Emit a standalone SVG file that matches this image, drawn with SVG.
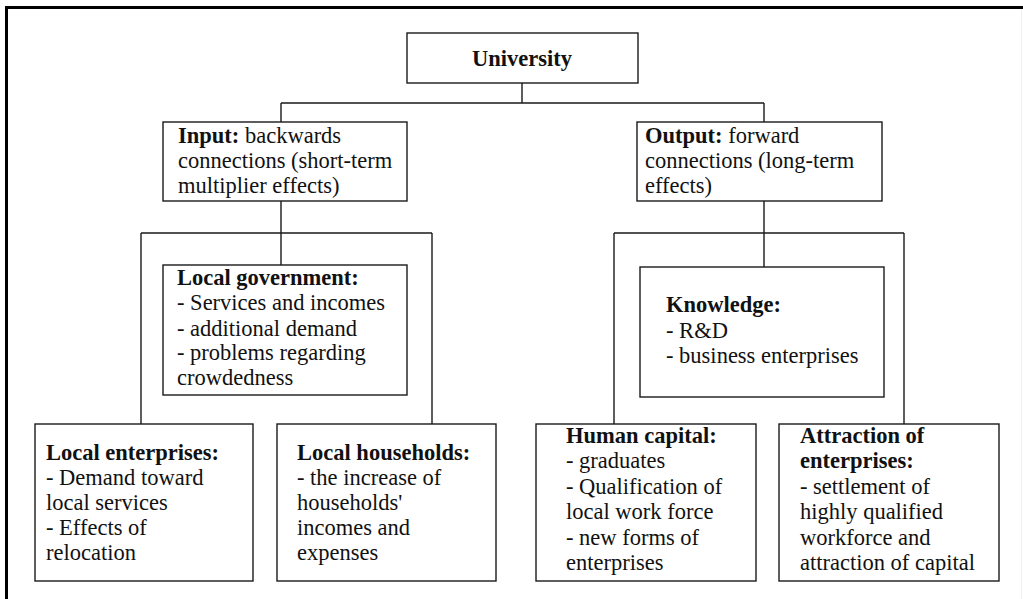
<svg xmlns="http://www.w3.org/2000/svg" width="1023" height="599" viewBox="0 0 1023 599">
<style>
  .box { fill: #ffffff; stroke: #1a1a1a; stroke-width: 1.4; }
  .conn { fill: none; stroke: #1a1a1a; stroke-width: 1.4; }
  text { font-family: "Liberation Serif", "Times New Roman", serif; font-size: 22.5px; fill: #111111; }
  .b { font-weight: bold; }
</style>
<rect width="1023" height="599" fill="#ffffff"/>
<g id="frame">
  <path d="M6.5 599 V7.5 H1023" fill="none" stroke="#000000" stroke-width="3"/>
  <line x1="1021.5" y1="9" x2="1021.5" y2="599" stroke="#f0f0f0" stroke-width="1"/>
</g>
<g id="connectors">
  <path class="conn" d="M522 83 V103 M281 103 H764 M281 103 V122 M764 103 V122"/>
  <path class="conn" d="M281 201 V265 M141 233 H432 M141 233 V424 M432 233 V424"/>
  <path class="conn" d="M764 201 V267 M614 233 H904 M614 233 V424 M904 233 V424"/>
</g>
<g id="university">
  <rect class="box" x="407" y="33" width="231" height="50"/>
  <text class="b" x="522" y="66" text-anchor="middle">University</text>
</g>
<g id="input">
  <rect class="box" x="163" y="122" width="244" height="79"/>
  <text x="178" y="143"><tspan class="b">Input:</tspan> backwards</text>
  <text x="178" y="168">connections (short-term</text>
  <text x="178" y="193">multiplier effects)</text>
</g>
<g id="output">
  <rect class="box" x="637" y="122" width="245" height="79"/>
  <text x="645" y="143"><tspan class="b">Output:</tspan> forward</text>
  <text x="645" y="168">connections (long-term</text>
  <text x="645" y="193">effects)</text>
</g>
<g id="local-government">
  <rect class="box" x="163" y="265" width="244" height="130"/>
  <text class="b" x="177" y="285">Local government:</text>
  <text x="177" y="310">- Services and incomes</text>
  <text x="177" y="336">- additional demand</text>
  <text x="177" y="360">- problems regarding</text>
  <text x="177" y="385">crowdedness</text>
</g>
<g id="local-enterprises">
  <rect class="box" x="35" y="424" width="218" height="157"/>
  <text class="b" x="46" y="460">Local enterprises:</text>
  <text x="46" y="485">- Demand toward</text>
  <text x="46" y="510">local services</text>
  <text x="46" y="535">- Effects of</text>
  <text x="46" y="560">relocation</text>
</g>
<g id="local-households">
  <rect class="box" x="277" y="424" width="219" height="157"/>
  <text class="b" x="297" y="460">Local households:</text>
  <text x="297" y="485">- the increase of</text>
  <text x="297" y="510">households'</text>
  <text x="297" y="535">incomes and</text>
  <text x="297" y="560">expenses</text>
</g>
<g id="knowledge">
  <rect class="box" x="640" y="267" width="244" height="130"/>
  <text class="b" x="666" y="312">Knowledge:</text>
  <text x="666" y="338">- R&amp;D</text>
  <text x="666" y="363">- business enterprises</text>
</g>
<g id="human-capital">
  <rect class="box" x="536" y="424" width="220" height="157"/>
  <text class="b" x="566" y="443">Human capital:</text>
  <text x="566" y="468.4">- graduates</text>
  <text x="566" y="493.8">- Qualification of</text>
  <text x="566" y="519.2">local work force</text>
  <text x="566" y="544.6">- new forms of</text>
  <text x="566" y="570">enterprises</text>
</g>
<g id="attraction">
  <rect class="box" x="779" y="424" width="220" height="157"/>
  <text class="b" x="800" y="443">Attraction of</text>
  <text class="b" x="800" y="468.4">enterprises:</text>
  <text x="800" y="493.8">- settlement of</text>
  <text x="800" y="519.2">highly qualified</text>
  <text x="800" y="544.6">workforce and</text>
  <text x="800" y="570">attraction of capital</text>
</g>
</svg>
